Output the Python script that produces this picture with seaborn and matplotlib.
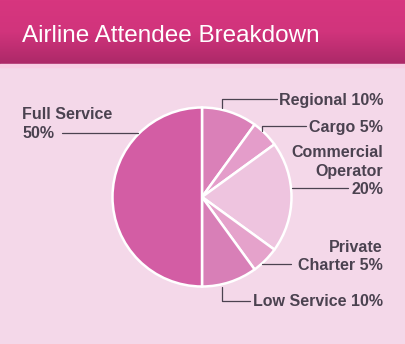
import numpy as np
import matplotlib
matplotlib.use("Agg")
import matplotlib.pyplot as plt
import seaborn as sns
from matplotlib.colors import LinearSegmentedColormap

# Airline attendee shares, clockwise from 12 o'clock
segments = ["Regional", "Cargo", "Commercial Operator", "Private Charter", "Low Service", "Full Service"]
shares = [10, 5, 20, 5, 10, 50]
colors = ["#da80b8", "#e49dca", "#eec4df", "#e5a2cb", "#d87fb7", "#d35da4"]
title = "Airline Attendee Breakdown"

sns.set_theme(style="white")
plt.rcParams["font.family"] = ["Liberation Sans", "DejaVu Sans"]

W, H = 405, 344
BG = "#f4d8e9"
INK = "#4b4250"

fig = plt.figure(figsize=(W / 100, H / 100), dpi=100, facecolor=BG)
ax = fig.add_axes([0, 0, 1, 1])
ax.set_xlim(0, W)
ax.set_ylim(0, H)
ax.set_facecolor(BG)
ax.axis("off")


def Y(py):
    # pixel row measured from the top -> data y
    return H - py


# Header band with vertical gradient
band = LinearSegmentedColormap.from_list("band", ["#d7367f", "#d1347c", "#ac2968"])
grad = np.linspace(0, 1, 64).reshape(-1, 1)
ax.imshow(grad, cmap=band, extent=(0, W, Y(64), Y(0)), aspect="auto", zorder=1)
ax.fill_between([0, W], Y(67), Y(64), color="#f8cde3", zorder=1)
ax.text(22, Y(42.5), title, color="white", fontsize=17.5, ha="left", va="baseline", zorder=3)

# Pie
cx, cy, r = 202, Y(197), 89.5
ax.pie(shares, colors=colors, startangle=90, counterclock=False,
       center=(cx, cy), radius=r, frame=True,
       wedgeprops=dict(edgecolor="white", linewidth=1.8))
ax.set_xlim(0, W)
ax.set_ylim(0, H)
ax.set_aspect("equal")
ax.axis("off")

lbl = dict(color=INK, fontsize=11.5, fontweight="bold", va="baseline", zorder=3)
lk = dict(color=INK, lw=0.9, zorder=3)

# Regional
ax.plot([221.5, 221.5, 277], [Y(108), Y(98.5), Y(98.5)], **lk)
ax.text(383, Y(105), f"{segments[0]} {shares[0]}%", ha="right", **lbl)
# Cargo
ax.plot([262, 262, 306], [Y(130.5), Y(126), Y(126)], **lk)
ax.text(383, Y(131.7), f"{segments[1]} {shares[1]}%", ha="right", **lbl)
# Commercial Operator
ax.plot([291.5, 348], [Y(188.3), Y(188.3)], **lk)
ax.text(383, Y(157.3), "Commercial", ha="right", **lbl)
ax.text(383, Y(176), "Operator", ha="right", **lbl)
ax.text(383, Y(193.5), f"{shares[2]}%", ha="right", **lbl)
# Private Charter
ax.plot([262, 290.5], [Y(264), Y(264)], **lk)
ax.text(383, Y(251.5), "Private", ha="right", **lbl)
ax.text(383, Y(270), f"Charter {shares[3]}%", ha="right", **lbl)
# Low Service
ax.plot([221.5, 221.5, 250], [Y(286.5), Y(300.5), Y(300.5)], **lk)
ax.text(383, Y(306), f"{segments[4]} {shares[4]}%", ha="right", **lbl)
# Full Service
ax.plot([62, 138], [Y(132.5), Y(132.5)], **lk)
ax.text(22.5, Y(119.3), segments[5], ha="left", **lbl)
ax.text(22.5, Y(137.5), f"{shares[5]}%", ha="left", **lbl)

fig.savefig("out.png", dpi=100, facecolor=BG)
